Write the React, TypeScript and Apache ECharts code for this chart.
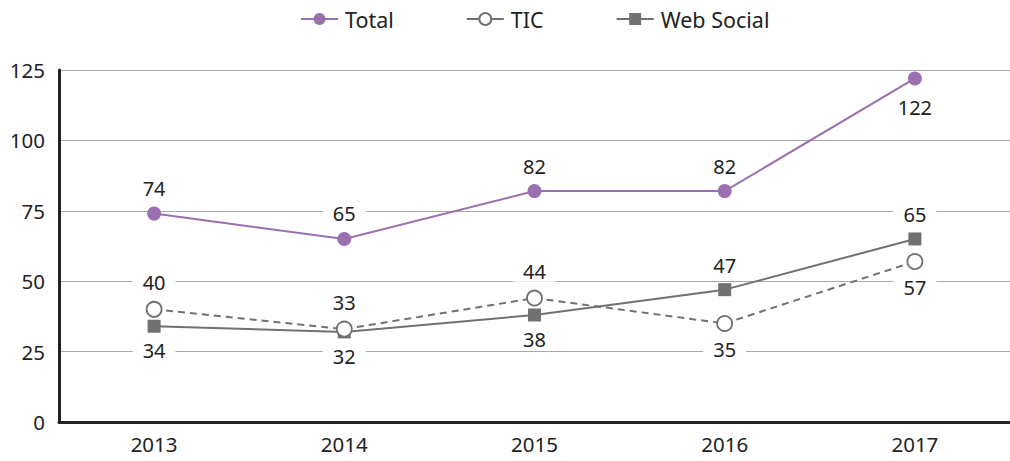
import React, { useEffect, useRef } from "react";
import * as echarts from "echarts";

const years = ["2013", "2014", "2015", "2016", "2017"];
const total = [74, 65, 82, 82, 122];
const tic = [40, 33, 44, 35, 57];
const webSocial = [34, 32, 38, 47, 65];
const totalPos = ["top", "top", "top", "top", "bottom"];
const ticPos = ["top", "top", "top", "bottom", "bottom"];
const webPos = ["bottom", "bottom", "bottom", "top", "top"];

const FONT = "Noto Sans";
const PURPLE = "#9b70b0";
const GRAY = "#717171";

function mk(vals: number[], pos: string[], lastNoBg = false) {
  return vals.map((v, i) => ({
    value: v,
    label:
      lastNoBg && i === vals.length - 1
        ? { position: pos[i], backgroundColor: "transparent", distance: 12 }
        : { position: pos[i] },
  }));
}

const labelBase = {
  show: true,
  fontFamily: FONT,
  fontSize: 20,
  color: "#222",
  backgroundColor: "#fff",
  padding: [0, 10],
  distance: 8,
};

export default function App() {
  const ref = useRef<HTMLDivElement>(null);
  useEffect(() => {
    const chart = echarts.init(ref.current!, null, { renderer: "svg" });
    chart.setOption({
      animation: false,
      textStyle: { fontFamily: FONT },
      legend: {
        top: 3,
        left: 295,
        itemGap: 72,
        itemWidth: 37,
        itemHeight: 15,
        textStyle: { fontFamily: FONT, fontSize: 21.5, color: "#222", padding: [0, 0, 0, 2] },
        data: [
          { name: "Total" },
          { name: "TIC", lineStyle: { type: "solid" } },
          { name: "Web Social" },
        ],
      },
      grid: { left: 59, width: 955, top: 70, bottom: 39 },
      xAxis: {
        type: "category",
        data: years,
        boundaryGap: true,
        axisLine: { lineStyle: { color: "#222", width: 3 } },
        axisTick: { show: false },
        axisLabel: { fontFamily: FONT, fontSize: 20.5, color: "#222", margin: 11 },
      },
      yAxis: {
        type: "value",
        min: 0,
        max: 125,
        interval: 25,
        axisLine: { show: true, lineStyle: { color: "#222", width: 3 } },
        axisTick: { show: false },
        axisLabel: { fontFamily: FONT, fontSize: 20.5, color: "#222", margin: 14 },
        splitLine: { lineStyle: { color: "#a8a8a8", width: 1.2 } },
      },
      series: [
        {
          name: "Total",
          type: "line",
          data: mk(total, totalPos, true),
          symbol: "circle",
          symbolSize: 14,
          itemStyle: { color: PURPLE },
          lineStyle: { color: PURPLE, width: 2 },
          label: labelBase,
          z: 3,
        },
        {
          name: "TIC",
          type: "line",
          data: mk(tic, ticPos),
          symbol: "circle",
          symbolSize: 15,
          itemStyle: { color: "#fff", borderColor: GRAY, borderWidth: 1.8 },
          lineStyle: { color: GRAY, width: 2, type: [7, 5] },
          label: labelBase,
          z: 4,
        },
        {
          name: "Web Social",
          type: "line",
          data: mk(webSocial, webPos),
          symbol: "rect",
          symbolSize: 13,
          itemStyle: { color: GRAY },
          lineStyle: { color: GRAY, width: 2 },
          label: labelBase,
          z: 2,
        },
      ],
    });
    return () => chart.dispose();
  }, []);
  return <div ref={ref} style={{ width: 1010, height: 461, position: "absolute", left: 0, top: 0 }} />;
}
